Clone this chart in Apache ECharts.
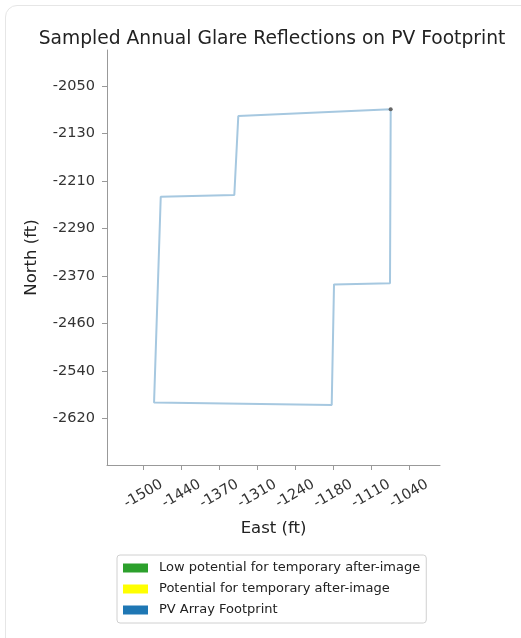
<!DOCTYPE html>
<html>
<head>
<meta charset="utf-8">
<script src="https://cdn.jsdelivr.net/npm/echarts@6/dist/echarts.min.js"></script>
<style>
  html, body { margin: 0; padding: 0; background: #fff; width: 521px; height: 638px; overflow: hidden; }
  #card { position: absolute; left: 5px; top: 5px; width: 540px; height: 660px; border: 1px solid #e6e6e6; border-radius: 12px; box-sizing: border-box; }
  #chart { position: absolute; left: 0; top: 0; width: 521px; height: 638px; }
</style>
</head>
<body>
<div id="card"></div>
<div id="chart"></div>
<script>
// ---- data ----
const footprintEast  = [-1071.0, -1335.3, -1342.2, -1469.8, -1481.4, -1173.3, -1169.3, -1072.2, -1071.0];
const footprintNorth = [-2081.3, -2092.8, -2229.4, -2232.3, -2587.6, -2592.2, -2383.7, -2381.9, -2081.3];

const xTickValues = [-1500, -1434.2, -1368.4, -1302.6, -1236.8, -1171.0, -1105.2, -1039.4];
const xTickLabels = ['-1500', '-1440', '-1370', '-1310', '-1240', '-1180', '-1110', '-1040'];
const yTickValues = [-2041, -2123, -2205, -2287, -2369, -2451, -2533, -2615];
const yTickLabels = ['-2050', '-2130', '-2210', '-2290', '-2370', '-2460', '-2540', '-2620'];

const legendNames = ['Low potential for temporary after-image', 'Potential for temporary after-image', 'PV Array Footprint'];

// ---- chart ----
const FONT = 'DejaVu Sans';
function lookup(values, labels, v) {
  let best = 0, bd = Infinity;
  values.forEach((t, i) => { const d = Math.abs(t - v); if (d < bd) { bd = d; best = i; } });
  return labels[best];
}
const footprintData = footprintEast.map((x, i) => [x, footprintNorth[i]]);

const chart = echarts.init(document.getElementById('chart'), null, { renderer: 'canvas' });
chart.setOption({
  animation: false,
  backgroundColor: 'transparent',
  textStyle: { fontFamily: FONT },
  title: {
    text: 'Sampled Annual Glare Reflections on PV Footprint',
    left: 267, textAlign: 'center', top: 25,
    textStyle: { fontFamily: FONT, fontSize: 18.7, fontWeight: 'normal', color: '#222' }
  },
  grid: { left: 107, top: 50, width: 333, height: 415, containLabel: false },
  xAxis: {
    type: 'value', min: -1563, max: -985.5,
    name: 'East (ft)', nameLocation: 'middle', nameGap: 55,
    nameTextStyle: { fontFamily: FONT, fontSize: 16.5, color: '#222' },
    splitLine: { show: false },
    axisLine: { show: true, onZero: false, lineStyle: { color: '#999', width: 1 } },
    axisTick: { show: true, length: 5, lineStyle: { color: '#999' }, customValues: xTickValues },
    axisLabel: {
      customValues: xTickValues,
      rotate: 30, align: 'center', verticalAlign: 'middle', margin: 29,
      fontFamily: FONT, fontSize: 14.5, color: '#333',
      formatter: v => lookup(xTickValues, xTickLabels, v)
    }
  },
  yAxis: {
    type: 'value', min: -2695.7, max: -1978.8,
    name: 'North (ft)', nameLocation: 'middle', nameGap: 67, nameRotate: 90,
    nameTextStyle: { fontFamily: FONT, fontSize: 16.5, color: '#222' },
    splitLine: { show: false },
    axisLine: { show: true, onZero: false, lineStyle: { color: '#999', width: 1 } },
    axisTick: { show: true, length: 5, lineStyle: { color: '#999' }, customValues: yTickValues },
    axisLabel: {
      customValues: yTickValues, margin: 12,
      fontFamily: FONT, fontSize: 14.5, color: '#333',
      formatter: v => lookup(yTickValues, yTickLabels, v)
    }
  },
  legend: {
    data: legendNames,
    orient: 'vertical', left: 117, top: 555,
    icon: 'rect', itemWidth: 25, itemHeight: 9, itemGap: 5,
    padding: [5, 6, 5, 6],
    borderColor: '#d0d0d0', borderWidth: 1, borderRadius: 3,
    backgroundColor: '#fff',
    textStyle: { fontFamily: FONT, fontSize: 13, color: '#222', lineHeight: 16, padding: [0, 0, 0, 6] },
    selectedMode: false
  },
  series: [
    { name: legendNames[0], type: 'scatter', data: [], itemStyle: { color: '#2ca02c', opacity: 1 } },
    { name: legendNames[1], type: 'scatter', data: [], itemStyle: { color: '#ffff00', opacity: 1 } },
    {
      name: legendNames[2], type: 'line', data: footprintData,
      showSymbol: false, symbol: 'none',
      itemStyle: { color: '#1f77b4' },
      lineStyle: { color: '#a6c8e0', width: 2 },
      z: 2
    },
    {
      name: 'start', type: 'scatter', data: [footprintData[0]],
      symbol: 'circle', symbolSize: 4, itemStyle: { color: '#666', opacity: 1 }, z: 3
    }
  ]
});
</script>
</body>
</html>
